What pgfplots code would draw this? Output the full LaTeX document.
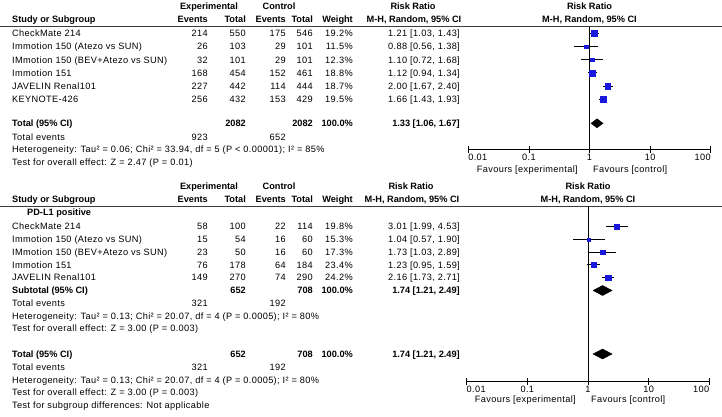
\documentclass[border=0pt]{standalone}
\usepackage{fontspec}
\setmainfont{Liberation Sans}[LetterSpace=4, BoldFeatures={LetterSpace=0}]
\usepackage{pgfplots}
\pgfplotsset{compat=1.18}
\definecolor{sqblue}{RGB}{25,25,220}
\definecolor{rulegray}{RGB}{60,60,60}
\newcommand{\fs}{\fontsize{9.2}{11}\selectfont}
\newcommand{\TL}[3]{\node[anchor=base west,inner sep=0pt,font=\fs] at (#1pt,-#2pt) {#3};}
\newcommand{\TR}[3]{\node[anchor=base east,inner sep=0pt,font=\fs] at (#1pt,-#2pt) {#3};}
\newcommand{\TC}[3]{\node[anchor=base,inner sep=0pt,font=\fs] at (#1pt,-#2pt) {#3};}
\newcommand{\Row}[8]{%
  \TL{12}{#1}{#2}\TR{208}{#1}{#3}\TR{246}{#1}{#4}\TR{286}{#1}{#5}\TR{313}{#1}{#6}\TR{353}{#1}{#7}\TR{460}{#1}{#8}}
\begin{document}
\begin{tikzpicture}
\path[use as bounding box, fill=white] (0,0) rectangle (722pt,-417pt);
% ---------------- top panel text
\TC{209}{10}{\bfseries Experimental}
\TC{279}{10}{\bfseries Control}
\TC{413}{10}{\bfseries Risk Ratio}
\TC{589.5}{10}{\bfseries Risk Ratio}
\TL{12}{23}{\bfseries Study or Subgroup}
\TR{208}{23}{\bfseries Events}
\TR{246}{23}{\bfseries Total}
\TR{286}{23}{\bfseries Events}
\TR{313}{23}{\bfseries Total}
\TR{353}{23}{\bfseries Weight}
\TC{414}{22.5}{\bfseries M-H, Random, 95\% CI}
\TC{589.5}{22.5}{\bfseries M-H, Random, 95\% CI}
\draw[rulegray, line width=1pt] (0,-27pt) -- (722pt,-27pt);
\Row{36.8}{CheckMate 214}{214}{550}{175}{546}{19.2\%}{1.21 [1.03, 1.43]}
\Row{50}{Immotion 150 (Atezo vs SUN)}{26}{103}{29}{101}{11.5\%}{0.88 [0.56, 1.38]}
\Row{63.1}{IMmotion 150 (BEV+Atezo vs SUN)}{32}{101}{29}{101}{12.3\%}{1.10 [0.72, 1.68]}
\Row{76.2}{Immotion 151}{168}{454}{152}{461}{18.8\%}{1.12 [0.94, 1.34]}
\Row{89.3}{JAVELIN Renal101}{227}{442}{114}{444}{18.7\%}{2.00 [1.67, 2.40]}
\Row{102.4}{KEYNOTE-426}{256}{432}{153}{429}{19.5\%}{1.66 [1.43, 1.93]}
\Row{126.6}{\bfseries Total (95\% CI)}{}{\bfseries 2082}{}{\bfseries 2082}{\bfseries 100.0\%}{\bfseries 1.33 [1.06, 1.67]}
\Row{140.3}{Total events}{923}{}{652}{}{}{}
\TL{12}{152.6}{Heterogeneity: Tau² = 0.06; Chi² = 33.94, df = 5 (P < 0.00001); I² = 85\%}
\TL{12}{165.2}{Test for overall effect: Z = 2.47 (P = 0.01)}
\TR{578}{172}{Favours [experimental]}
\TL{593}{172}{Favours [control]}
% ---------------- bottom panel text
\TC{209}{189}{\bfseries Experimental}
\TC{279}{189}{\bfseries Control}
\TC{411}{189}{\bfseries Risk Ratio}
\TC{588}{189}{\bfseries Risk Ratio}
\TL{12}{202.6}{\bfseries Study or Subgroup}
\TR{208}{202.6}{\bfseries Events}
\TR{246}{202.6}{\bfseries Total}
\TR{286}{202.6}{\bfseries Events}
\TR{313}{202.6}{\bfseries Total}
\TR{353}{202.6}{\bfseries Weight}
\TC{412}{202.3}{\bfseries M-H, Random, 95\% CI}
\TC{588}{202.3}{\bfseries M-H, Random, 95\% CI}
\draw[rulegray, line width=1pt] (0,-206pt) -- (722pt,-206pt);
\TL{27}{215.3}{\bfseries PD-L1 positive}
\Row{229.8}{CheckMate 214}{58}{100}{22}{114}{19.8\%}{3.01 [1.99, 4.53]}
\Row{242.6}{Immotion 150 (Atezo vs SUN)}{15}{54}{16}{60}{15.3\%}{1.04 [0.57, 1.90]}
\Row{255.3}{IMmotion 150 (BEV+Atezo vs SUN)}{23}{50}{16}{60}{17.3\%}{1.73 [1.03, 2.89]}
\Row{268.1}{Immotion 151}{76}{178}{64}{184}{23.4\%}{1.23 [0.95, 1.59]}
\Row{280.9}{JAVELIN Renal101}{149}{270}{74}{290}{24.2\%}{2.16 [1.73, 2.71]}
\Row{293.8}{\bfseries Subtotal (95\% CI)}{}{\bfseries 652}{}{\bfseries 708}{\bfseries 100.0\%}{\bfseries 1.74 [1.21, 2.49]}
\Row{306.8}{Total events}{321}{}{192}{}{}{}
\TL{12}{319.3}{Heterogeneity: Tau² = 0.13; Chi² = 20.07, df = 4 (P = 0.0005); I² = 80\%}
\TL{12}{331.8}{Test for overall effect: Z = 3.00 (P = 0.003)}
\Row{357.3}{\bfseries Total (95\% CI)}{}{\bfseries 652}{}{\bfseries 708}{\bfseries 100.0\%}{\bfseries 1.74 [1.21, 2.49]}
\Row{370.3}{Total events}{321}{}{192}{}{}{}
\TL{12}{383.3}{Heterogeneity: Tau² = 0.13; Chi² = 20.07, df = 4 (P = 0.0005); I² = 80\%}
\TL{12}{395.8}{Test for overall effect: Z = 3.00 (P = 0.003)}
\TL{12}{408.3}{Test for subgroup differences: Not applicable}
\TR{576}{402.5}{Favours [experimental]}
\TL{591}{402.5}{Favours [control]}
% ---------------- top forest axis
\begin{axis}[scale only axis, xmode=log, xmin=0.01, xmax=100, enlargelimits=false,
  axis x line*=bottom, axis y line=none,
  x axis line style={-, line width=0.8pt},
  xtick={0.01,0.1,1,10,100}, xticklabels={\rlap{0.01},0.1,1,10,\llap{100}},
  xminorticks=false, tick align=center, major tick length=7pt,
  tick style={black, line width=0.8pt},
  xticklabel style={font=\fs, inner sep=1pt},
  clip=false,
  at={(468.3pt,-149.5pt)}, anchor=south west,
  width=242.4pt, height=122.5pt, ymin=-149.5, ymax=-27]
\addplot[black, line width=0.8pt] coordinates {(1,-27) (1,-149.5)};
\addplot[black, line width=0.8pt] coordinates {(1.03,-33.5) (1.43,-33.5)};
\addplot[black, line width=0.8pt] coordinates {(0.56,-46.7) (1.38,-46.7)};
\addplot[black, line width=0.8pt] coordinates {(0.72,-59.8) (1.68,-59.8)};
\addplot[black, line width=0.8pt] coordinates {(0.94,-72.9) (1.34,-72.9)};
\addplot[black, line width=0.8pt] coordinates {(1.67,-86) (2.40,-86)};
\addplot[black, line width=0.8pt] coordinates {(1.43,-99.1) (1.93,-99.1)};
\addplot[only marks, mark=square*, mark size=3.0pt, sqblue] coordinates {(1.21,-33.5)};
\addplot[only marks, mark=square*, mark size=1.8pt, sqblue] coordinates {(0.88,-46.7)};
\addplot[only marks, mark=square*, mark size=1.9pt, sqblue] coordinates {(1.10,-59.8)};
\addplot[only marks, mark=square*, mark size=2.9pt, sqblue] coordinates {(1.12,-72.9)};
\addplot[only marks, mark=square*, mark size=2.9pt, sqblue] coordinates {(2.00,-86)};
\addplot[only marks, mark=square*, mark size=3.0pt, sqblue] coordinates {(1.66,-99.1)};
\addplot[fill=black, draw=black] coordinates {(1.06,-123.3) (1.33,-118.8) (1.67,-123.3) (1.33,-127.8) (1.06,-123.3)};
\end{axis}
% ---------------- bottom forest axis
\begin{axis}[scale only axis, xmode=log, xmin=0.01, xmax=100, enlargelimits=false,
  axis x line*=bottom, axis y line=none,
  x axis line style={-, line width=0.8pt},
  xtick={0.01,0.1,1,10,100}, xticklabels={\rlap{0.01},0.1,1,10,\llap{100}},
  xminorticks=false, tick align=center, major tick length=7pt,
  tick style={black, line width=0.8pt},
  xticklabel style={font=\fs, inner sep=1pt},
  clip=false,
  at={(466.7pt,-381pt)}, anchor=south west,
  width=242.6pt, height=175pt, ymin=-381, ymax=-206]
\addplot[black, line width=0.8pt] coordinates {(1,-206) (1,-381)};
\addplot[black, line width=0.8pt] coordinates {(1.99,-226.5) (4.53,-226.5)};
\addplot[black, line width=0.8pt] coordinates {(0.57,-239.3) (1.90,-239.3)};
\addplot[black, line width=0.8pt] coordinates {(1.03,-252) (2.89,-252)};
\addplot[black, line width=0.8pt] coordinates {(0.95,-264.8) (1.59,-264.8)};
\addplot[black, line width=0.8pt] coordinates {(1.73,-277.6) (2.71,-277.6)};
\addplot[only marks, mark=square*, mark size=2.5pt, sqblue] coordinates {(3.01,-226.5)};
\addplot[only marks, mark=square*, mark size=1.6pt, sqblue] coordinates {(1.04,-239.3)};
\addplot[only marks, mark=square*, mark size=2.3pt, sqblue] coordinates {(1.73,-252)};
\addplot[only marks, mark=square*, mark size=2.3pt, sqblue] coordinates {(1.23,-264.8)};
\addplot[only marks, mark=square*, mark size=2.7pt, sqblue] coordinates {(2.16,-277.6)};
\addplot[fill=black, draw=black] coordinates {(1.21,-290.5) (1.74,-285.5) (2.49,-290.5) (1.74,-295.5) (1.21,-290.5)};
\addplot[fill=black, draw=black] coordinates {(1.21,-354) (1.74,-349) (2.49,-354) (1.74,-359) (1.21,-354)};
\end{axis}
\end{tikzpicture}
\end{document}
